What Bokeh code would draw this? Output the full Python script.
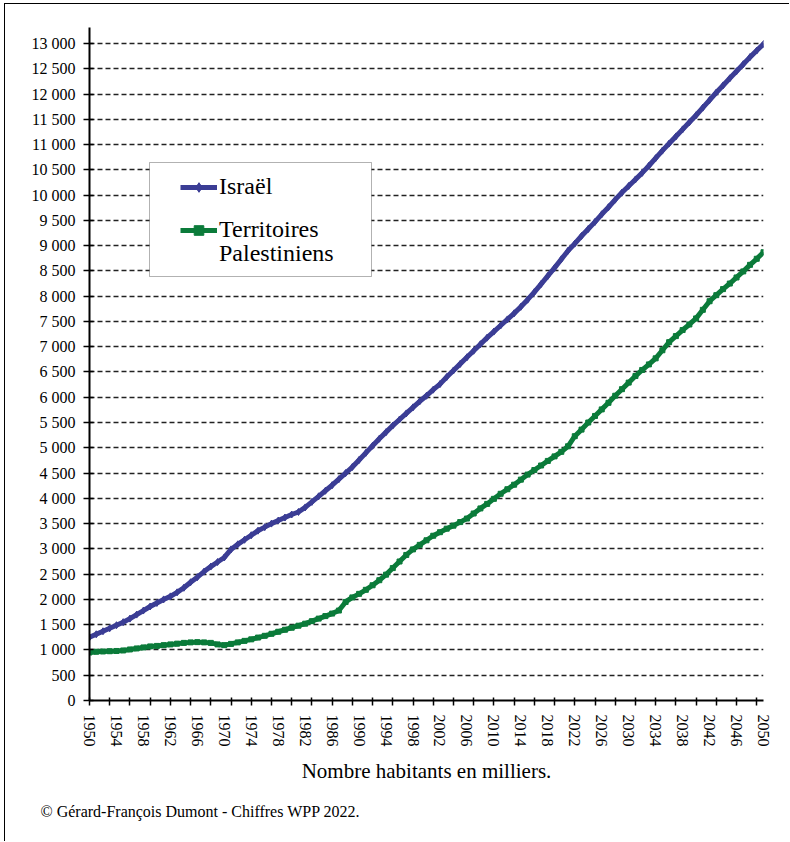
from bokeh.plotting import figure
from bokeh.models import (Range1d, FixedTicker, Legend, LegendItem, Title, BoxAnnotation)
from bokeh.embed import file_html
from bokeh.resources import INLINE

years = list(range(1950, 2051))
israel = [
    1250, 1310, 1370, 1430, 1490, 1550, 1620, 1700, 1780, 1860,
    1930, 2000, 2060, 2140, 2230, 2340, 2440, 2550, 2650, 2740,
    2830, 2990, 3090, 3180, 3270, 3360, 3430, 3500, 3560, 3620,
    3680, 3730, 3820, 3930, 4040, 4150, 4260, 4380, 4500, 4620,
    4760, 4900, 5040, 5180, 5310, 5440, 5560, 5680, 5800, 5920,
    6030, 6150, 6260, 6400, 6530, 6660, 6790, 6920, 7050, 7180,
    7300, 7420, 7540, 7660, 7790, 7930, 8080, 8240, 8400, 8560,
    8730, 8900, 9040, 9190, 9330, 9470, 9620, 9760, 9910, 10050,
    10180, 10310, 10440, 10580, 10730, 10880, 11020, 11160, 11300, 11440,
    11580, 11730, 11880, 12030, 12170, 12310, 12450, 12590, 12730, 12860,
    12990,
]
palestine = [
    950, 965, 970, 975, 980, 990, 1010, 1030, 1050, 1070,
    1080, 1095, 1110, 1125, 1140, 1150, 1155, 1150, 1140, 1110,
    1095, 1120, 1150, 1180, 1210, 1245, 1280, 1320, 1360, 1400,
    1440, 1480, 1520, 1570, 1620, 1670, 1720, 1780, 1950, 2040,
    2110, 2190, 2280, 2380, 2490, 2620, 2750, 2880, 2990, 3080,
    3170, 3260, 3330, 3400, 3460, 3530, 3600, 3700, 3800, 3890,
    3990, 4090, 4180, 4270, 4370, 4470, 4560, 4650, 4740, 4830,
    4920, 5030, 5230, 5360, 5500, 5630, 5760, 5890, 6030, 6160,
    6290, 6420, 6540, 6650, 6770, 6930, 7090, 7210, 7330, 7440,
    7560, 7730, 7900, 8020, 8140, 8250, 8370, 8490, 8620, 8740,
    8870,
]
x_label_years = list(range(1950, 2051, 4))
x_minor_years = list(range(1950, 2051, 3))
y_ticks = list(range(0, 13001, 500))
y_tick_labels = {v: (f"{v:,}".replace(",", " ")) for v in y_ticks}

israel_name = "Israël"
pal_name_lines = ["Territoires", "Palestiniens"]
axis_title = "Nombre habitants en milliers."
credit = "© Gérard-François Dumont - Chiffres WPP 2022."

BLUE = "#3B3D95"
GREEN = "#0B7B3A"
FONT = "Liberation Serif"

p = figure(width=785, height=838, output_backend="svg", toolbar_location=None,
           x_range=Range1d(1950, 2050), y_range=Range1d(0, 13316),
           min_border_left=84, min_border_right=27, min_border_top=23, min_border_bottom=142)
p.styles = {"margin-left": "4px", "margin-top": "3px",
            "border-left": "1px solid black", "border-top": "1px solid black"}
p.outline_line_color = None
p.background_fill_color = "white"
p.border_fill_color = "white"

# axes
xa = p.xaxis[0]
xa.ticker = FixedTicker(ticks=x_label_years, minor_ticks=x_minor_years)
xa.major_tick_in = 0
xa.major_tick_out = 0
xa.minor_tick_in = 3
xa.minor_tick_out = 5
xa.minor_tick_line_color = "black"
xa.minor_tick_line_width = 1.5
xa.axis_line_color = "black"
xa.axis_line_width = 2
xa.major_label_orientation = "vertical"
xa.major_label_standoff = 9
xa.major_label_text_font = FONT
xa.major_label_text_font_size = "16px"
xa.major_label_text_color = "black"
xa.axis_label = axis_title
xa.axis_label_text_font = FONT
xa.axis_label_text_font_size = "21px"
xa.axis_label_text_font_style = "normal"
xa.axis_label_text_color = "black"
xa.axis_label_standoff = 9

ya = p.yaxis[0]
ya.ticker = FixedTicker(ticks=y_ticks)
ya.major_label_overrides = y_tick_labels
ya.major_tick_in = 4
ya.major_tick_out = 6
ya.major_tick_line_color = "black"
ya.major_tick_line_width = 1.5
ya.minor_tick_line_color = None
ya.axis_line_color = "black"
ya.axis_line_width = 2
ya.major_label_standoff = 8
ya.major_label_text_font = FONT
ya.major_label_text_font_size = "16px"
ya.major_label_text_color = "black"

p.xgrid.grid_line_color = None
p.ygrid.ticker = FixedTicker(ticks=y_ticks[1:])
p.ygrid.grid_line_color = "#222222"
p.ygrid.grid_line_width = 1.5
p.ygrid.grid_line_dash = "5 3"

# series
l1 = p.line(years, israel, line_color=BLUE, line_width=5)
m1 = p.scatter(years, israel, marker="diamond", size=7, color=BLUE)
l2 = p.line(years, palestine, line_color=GREEN, line_width=5)
m2 = p.scatter(years, palestine, marker="square", size=5, color=GREEN)
blank = p.line([], [], line_alpha=0)

# legend frame
box = BoxAnnotation(left=60, right=282, top=538, bottom=424,
                    left_units="screen", right_units="screen",
                    top_units="screen", bottom_units="screen",
                    fill_color="white", fill_alpha=1.0,
                    line_color="black", line_width=1)
p.add_layout(box)

common = dict(padding=0, margin=0, border_line_color=None, background_fill_alpha=0,
              glyph_width=37, glyph_height=24, label_standoff=2,
              label_text_font=FONT, label_text_font_size="24px",
              label_text_color="black")
leg1 = Legend(items=[LegendItem(label=israel_name, renderers=[l1, m1])],
              location=(91, 500), **common)
leg2 = Legend(items=[LegendItem(label=pal_name_lines[0], renderers=[l2, m2])],
              location=(91, 457), **common)
leg3 = Legend(items=[LegendItem(label=pal_name_lines[1], renderers=[blank])],
              location=(91, 433), **common)
p.add_layout(leg1)
p.add_layout(leg2)
p.add_layout(leg3)

p.add_layout(Title(text=credit, align="left", offset=-49, standoff=31,
                   text_font=FONT, text_font_size="16px", text_font_style="normal",
                   text_color="black"), "below")

open("out.html", "w").write(file_html(p, INLINE))
